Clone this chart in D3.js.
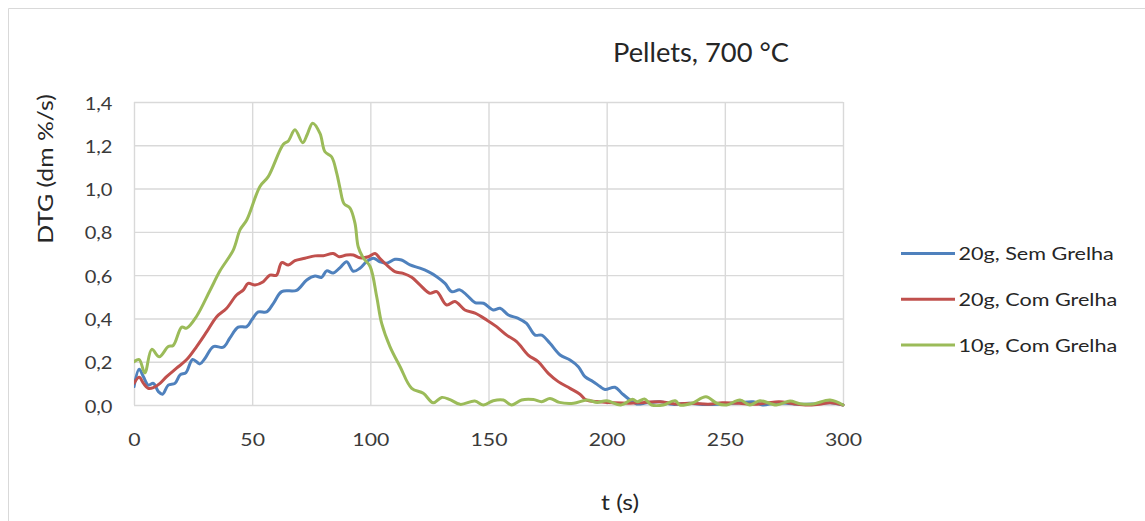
<!DOCTYPE html>
<html>
<head>
<meta charset="utf-8">
<script src="https://cdn.jsdelivr.net/npm/d3@7/dist/d3.min.js"></script>
<style>
  html, body { margin: 0; padding: 0; background: #fff; }
  svg { display: block; font-family: Lato, "Open Sans", sans-serif; }
</style>
</head>
<body>
<svg id="chart" width="1145" height="521"></svg>
<script>
// Pellets at 700 °C: DTG curves (dm %/s) against time (s)
const chartTitle = "Pellets, 700 °C";
const xTitle = "t (s)";
const yTitle = "DTG (dm %/s)";
const xTicks = [0, 50, 100, 150, 200, 250, 300];
const yTicks = [0, 0.2, 0.4, 0.6, 0.8, 1.0, 1.2, 1.4];
const seriesNames = ["20g, Sem Grelha", "20g, Com Grelha", "10g, Com Grelha"];
const seriesColors = ["#4F81BD", "#C0504D", "#9BBB59"];

// 20g, Sem Grelha
const semGrelha20T = [0, 2.2, 4, 6, 8.2, 10.3, 12.1, 14.5, 17.3, 19.5, 22, 24.8, 27.9, 30, 33.6, 37.8, 40.6, 44.1, 47.7, 49.8, 52.6, 56.1, 59, 62.5, 68.8, 73.1, 76.6, 79.4, 81.5, 84.3, 87.2, 90, 92.8, 95.6, 98.4, 101.3, 104, 106.9, 110.4, 113.2, 116.8, 121, 124.5, 128.1, 131.6, 134.4, 137.9, 140.8, 144.3, 147.9, 152, 154.9, 158.4, 162.6, 166.1, 169.7, 172.5, 176, 180.3, 184.5, 188, 190.8, 194.3, 197.2, 199.3, 203.5, 206.4, 209.9, 212.7, 217, 222.6, 228, 235, 242, 249, 256, 262, 266, 271, 276, 282, 288, 294.6, 300];
const semGrelha20V = [0.085, 0.165, 0.13, 0.092, 0.10, 0.062, 0.05, 0.092, 0.10, 0.139, 0.15, 0.21, 0.19, 0.215, 0.27, 0.267, 0.31, 0.36, 0.362, 0.393, 0.43, 0.43, 0.47, 0.524, 0.53, 0.578, 0.596, 0.59, 0.62, 0.61, 0.635, 0.662, 0.618, 0.632, 0.662, 0.678, 0.662, 0.655, 0.673, 0.67, 0.647, 0.632, 0.616, 0.593, 0.562, 0.524, 0.532, 0.508, 0.473, 0.47, 0.439, 0.447, 0.416, 0.40, 0.377, 0.323, 0.323, 0.285, 0.231, 0.208, 0.177, 0.131, 0.108, 0.085, 0.072, 0.082, 0.054, 0.023, 0.005, 0.01, 0.015, 0.003, 0.008, 0.002, 0.005, 0.01, 0.015, 0.0, 0.008, 0.008, 0.003, 0.005, 0.01, 0.0];

// 20g, Com Grelha
const comGrelha20T = [0, 2.2, 4, 6, 8.2, 11, 13.8, 18, 22.3, 26.5, 30.8, 35, 39.2, 43.4, 46.3, 48.3, 51.2, 54.7, 57.5, 60.3, 62.5, 65.3, 68.1, 72.3, 76.6, 80.1, 84.3, 86.8, 89.9, 92.8, 95.6, 99.2, 102, 104, 106.9, 110.4, 113.9, 117.5, 121, 125.2, 128.1, 132.3, 135.8, 140, 144.3, 149.2, 153.4, 157.7, 161.9, 166.8, 171, 175.3, 179.5, 184.5, 188.7, 191.5, 197, 203, 210, 216, 222.6, 229, 236, 243, 249, 256, 262, 268, 273, 279, 285, 290, 294.6, 300];
const comGrelha20V = [0.10, 0.128, 0.10, 0.077, 0.08, 0.10, 0.131, 0.17, 0.21, 0.27, 0.339, 0.408, 0.447, 0.508, 0.532, 0.562, 0.555, 0.57, 0.60, 0.60, 0.658, 0.647, 0.667, 0.678, 0.689, 0.69, 0.70, 0.685, 0.693, 0.693, 0.68, 0.685, 0.70, 0.678, 0.647, 0.616, 0.608, 0.59, 0.555, 0.516, 0.524, 0.462, 0.478, 0.439, 0.424, 0.393, 0.362, 0.323, 0.293, 0.231, 0.20, 0.146, 0.108, 0.077, 0.05, 0.022, 0.015, 0.01, 0.008, 0.012, 0.015, 0.005, 0.008, 0.004, 0.01, 0.008, 0.003, 0.01, 0.015, 0.006, 0.0, 0.004, 0.01, 0.0];

// 10g, Com Grelha
const comGrelha10T = [0, 2.2, 4.6, 7.5, 10.7, 14.5, 16.6, 20.2, 22.3, 26.5, 32.2, 36.4, 42, 44.9, 47.7, 53.3, 56.8, 63.2, 65.3, 68.1, 71.4, 73.3, 75.6, 78.7, 80.8, 83.6, 85.8, 87.2, 88.9, 91.4, 93.5, 94.9, 97, 99.9, 102.7, 104.8, 108.3, 112.6, 117.5, 122.4, 126.6, 130.2, 133.7, 138, 144.2, 147.9, 152, 156.3, 159.8, 164, 169, 172.5, 176, 180, 186, 191.6, 196, 200, 206, 211, 213, 216, 219, 224, 229, 231, 236, 242, 246.6, 250.7, 256.4, 260.6, 264.8, 271.8, 277.6, 281.8, 287.5, 294.5, 300];
const comGrelha10V = [0.20, 0.21, 0.148, 0.257, 0.223, 0.27, 0.275, 0.36, 0.355, 0.41, 0.53, 0.62, 0.716, 0.81, 0.855, 1.01, 1.055, 1.205, 1.22, 1.272, 1.212, 1.25, 1.302, 1.255, 1.17, 1.147, 1.07, 1.0, 0.93, 0.91, 0.84, 0.73, 0.68, 0.64, 0.50, 0.377, 0.27, 0.177, 0.077, 0.054, 0.01, 0.035, 0.025, 0.003, 0.018, 0.0, 0.02, 0.023, 0.0, 0.023, 0.025, 0.015, 0.03, 0.012, 0.008, 0.023, 0.012, 0.02, 0.0, 0.026, 0.015, 0.028, 0.0, 0.0, 0.02, 0.0, 0.008, 0.038, 0.008, 0.0, 0.023, 0.0, 0.02, 0.0, 0.018, 0.006, 0.005, 0.023, 0.0];

const seriesT = [semGrelha20T, comGrelha20T, comGrelha10T];
const seriesV = [semGrelha20V, comGrelha20V, comGrelha10V];

const svg = d3.select("#chart");
const plot = { left: 134, right: 843, top: 102, bottom: 405 };
const textColor = "#262626";
const labelColor = "#3a3a3a";
// the chart's text is set slightly wide
const sx = 1.18;

const x = d3.scaleLinear().domain([0, 300]).range([plot.left, plot.right]);
const y = d3.scaleLinear().domain([0, 1.4]).range([plot.bottom, plot.top]);
const fmt = v => d3.format(".1f")(v).replace(".", ",");

// outer chart frame
svg.append("path")
  .attr("d", "M8.5,521 L8.5,8.5 L1145,8.5")
  .attr("fill", "none").attr("stroke", "#d9d9d9").attr("stroke-width", 1);

// gridlines
svg.append("g")
  .attr("transform", `translate(0,${plot.bottom})`)
  .call(d3.axisBottom(x).tickValues(xTicks).tickSize(-(plot.bottom - plot.top)).tickFormat(""))
  .call(g => g.select(".domain").remove())
  .call(g => g.selectAll("line").attr("stroke", "#d9d9d9").attr("stroke-width", 1.4));

svg.append("g")
  .attr("transform", `translate(${plot.left},0)`)
  .call(d3.axisLeft(y).tickValues(yTicks).tickSize(-(plot.right - plot.left)).tickFormat(""))
  .call(g => g.select(".domain").remove())
  .call(g => g.selectAll("line").attr("stroke", "#d9d9d9").attr("stroke-width", 1.4));

// x tick labels
const xAxis = svg.append("g")
  .attr("transform", `translate(0,${plot.bottom})`)
  .call(d3.axisBottom(x).tickValues(xTicks).tickSize(0).tickFormat(d3.format("d")));
xAxis.select(".domain").remove();
xAxis.selectAll("text")
  .attr("font-size", 18).attr("fill", labelColor)
  .attr("font-family", "Lato, 'Open Sans', sans-serif")
  .attr("x", null).attr("y", null).attr("dy", null)
  .attr("transform", `translate(0,41) scale(${sx},1)`);

// y tick labels
const yAxis = svg.append("g")
  .attr("transform", `translate(${plot.left},0)`)
  .call(d3.axisLeft(y).tickValues(yTicks).tickSize(0).tickFormat(fmt));
yAxis.select(".domain").remove();
yAxis.selectAll("text")
  .attr("font-size", 17).attr("fill", labelColor)
  .attr("font-family", "Lato, 'Open Sans', sans-serif")
  .attr("x", null).attr("dy", null)
  .attr("transform", `translate(-21.5,7) scale(${sx},1)`);

// series lines
const line = d3.line()
  .x(d => x(d[0]))
  .y(d => y(Math.max(0, d[1])))
  .curve(d3.curveCatmullRom.alpha(0.5));

svg.append("clipPath").attr("id", "plotClip")
  .append("rect")
  .attr("x", plot.left).attr("y", plot.top - 5)
  .attr("width", plot.right - plot.left + 2).attr("height", plot.bottom - plot.top + 7);

const linesG = svg.append("g").attr("clip-path", "url(#plotClip)");
seriesNames.forEach((name, i) => {
  const pts = seriesT[i].map((t, j) => [t, seriesV[i][j]]);
  linesG.append("path")
    .datum(pts)
    .attr("d", line)
    .attr("fill", "none")
    .attr("stroke", seriesColors[i])
    .attr("stroke-width", 3)
    .attr("stroke-linejoin", "round")
    .attr("stroke-linecap", "round");
});

// titles
svg.append("text")
  .attr("transform", "translate(701,62) scale(1.05,1)")
  .attr("text-anchor", "middle")
  .attr("font-size", 26).attr("fill", textColor)
  .text(chartTitle);

svg.append("text")
  .attr("transform", `translate(620,510) scale(${sx},1)`)
  .attr("text-anchor", "middle")
  .attr("font-size", 21).attr("fill", textColor)
  .text(xTitle);

svg.append("text")
  .attr("transform", `translate(53,169) rotate(-90) scale(${sx},1)`)
  .attr("text-anchor", "middle")
  .attr("font-size", 21).attr("fill", textColor)
  .text(yTitle);

// legend
const legend = svg.append("g");
seriesNames.forEach((name, i) => {
  const ly = 253.5 + i * 45.8;
  legend.append("line")
    .attr("x1", 901).attr("x2", 955)
    .attr("y1", ly).attr("y2", ly)
    .attr("stroke", seriesColors[i]).attr("stroke-width", 3);
  legend.append("text")
    .attr("transform", `translate(958.5,${ly + 6.5}) scale(1.2,1)`)
    .attr("font-size", 18).attr("fill", textColor)
    .text(name);
});
</script>
</body>
</html>
